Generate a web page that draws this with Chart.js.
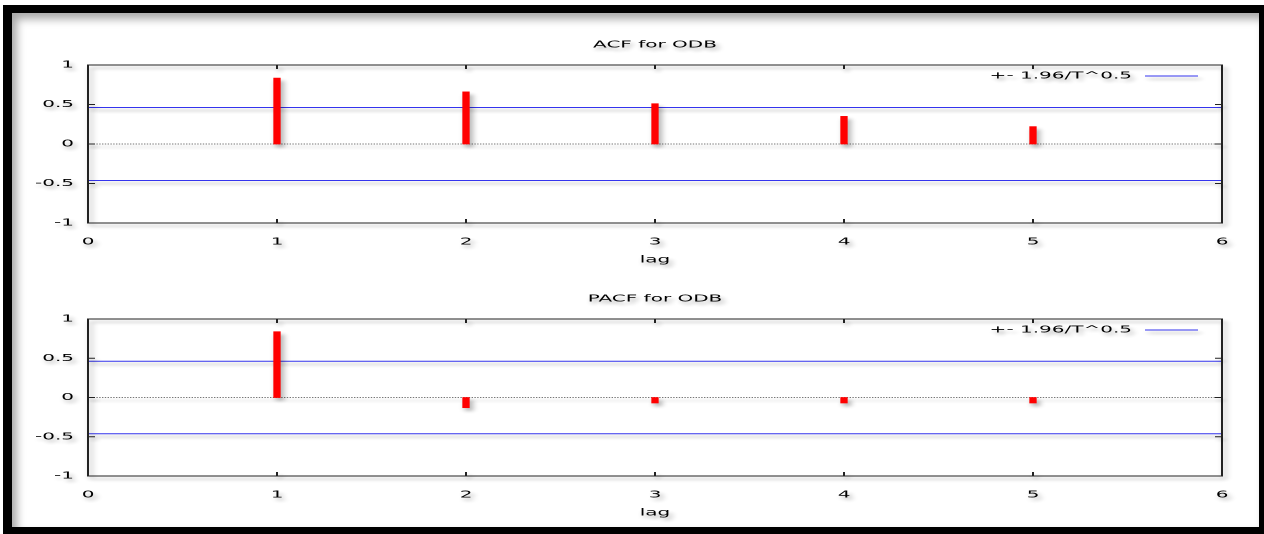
<!DOCTYPE html>
<html><head><meta charset="utf-8">
<script src="https://cdn.jsdelivr.net/npm/chart.js@4.4.0/dist/chart.umd.min.js"></script>
<style>
html,body{margin:0;padding:0;background:#fff;width:1264px;height:534px;overflow:hidden;position:relative}
#frame{position:absolute;left:3px;top:5px;width:1261px;height:529px;box-sizing:border-box;border-style:solid;border-color:#000;border-width:8px 5px 7px 9px;box-shadow:inset 5px 6px 8px rgba(0,0,0,0.35);}
canvas{position:absolute;left:0;transform:scaleX(2);transform-origin:0 0}
</style></head><body>
<div id="frame"></div>
<canvas id="acf" width="632" height="245" style="top:25px"></canvas>
<canvas id="pacf" width="632" height="244" style="top:279px"></canvas>
<script>
const lags = [1, 2, 3, 4, 5];
const acfValues = [0.835, 0.66, 0.51, 0.35, 0.22];
const pacfValues = [0.838, -0.13, -0.07, -0.07, -0.07];
const bandValue = 0.462;
const xTicks = [0, 1, 2, 3, 4, 5, 6];
const yTicks = [-1, -0.5, 0, 0.5, 1];
const titles = ['ACF for ODB', 'PACF for ODB'];
const legendLabel = '+- 1.96/T^0.5';
const xLabel = 'lag';

const FONT = {family: '"DejaVu Sans"', size: 10, weight: 'normal'};
const TEXT = '#000';

const decor = {
  id: 'decor',
  beforeDraw(chart) {
    const c = chart.ctx;
    c.save();
    c.shadowColor = 'rgba(0,0,0,0.33)';
    c.shadowOffsetX = 3;
    c.shadowOffsetY = 6;
    c.shadowBlur = 6;
  },
  afterDatasetsDraw(chart) {
    const c = chart.ctx, a = chart.chartArea, xs = chart.scales.x, ys = chart.scales.y;
    c.save();
    c.strokeStyle = '#222';
    c.lineWidth = 1;
    c.strokeRect(a.left, a.top, a.right - a.left, a.bottom - a.top);
    c.beginPath();
    xs.ticks.forEach(t => {
      if (t.value <= xs.min || t.value >= xs.max) return;
      const px = xs.getPixelForValue(t.value);
      c.moveTo(px, a.bottom); c.lineTo(px, a.bottom - 4);
      c.moveTo(px, a.top); c.lineTo(px, a.top + 4);
    });
    ys.ticks.forEach(t => {
      if (t.value <= ys.min || t.value >= ys.max) return;
      const py = ys.getPixelForValue(t.value);
      c.moveTo(a.left, py); c.lineTo(a.left + 3.5, py);
      c.moveTo(a.right, py); c.lineTo(a.right - 3.5, py);
    });
    c.stroke();
    const ds = chart.data.datasets.find(d => d.showInLegend);
    const y = a.top + 11;
    c.font = '10px "DejaVu Sans"';
    c.fillStyle = TEXT;
    c.textAlign = 'right';
    c.textBaseline = 'middle';
    c.fillText(ds.label, a.right - 45, y);
    c.beginPath();
    c.strokeStyle = ds.borderColor;
    c.moveTo(a.right - 38.5, y); c.lineTo(a.right - 12, y);
    c.stroke();
    c.restore();
  },
  afterDraw(chart) { chart.ctx.restore(); }
};

function makeChart(id, title, values) {
  const x0 = xTicks[0], x1 = xTicks[xTicks.length - 1];
  return new Chart(document.getElementById(id), {
    type: 'bar',
    data: {
      datasets: [
        {type: 'bar', label: 'coef', data: lags.map((l, i) => ({x: l, y: values[i]})),
         backgroundColor: '#ff0000', borderWidth: 0, barThickness: 3, grouped: false, order: 0},
        {type: 'line', label: legendLabel, showInLegend: true,
         data: [{x: x0, y: bandValue}, {x: x1, y: bandValue}],
         borderColor: '#3434ee', borderWidth: 1, pointRadius: 0, order: 1},
        {type: 'line', label: 'lower', data: [{x: x0, y: -bandValue}, {x: x1, y: -bandValue}],
         borderColor: '#3434ee', borderWidth: 1, pointRadius: 0, order: 1},
        {type: 'line', label: 'zero', data: [{x: x0, y: 0}, {x: x1, y: 0}],
         borderColor: '#777', borderWidth: 1, borderDash: [0.7, 0.7], pointRadius: 0, order: 2}
      ]
    },
    options: {
      responsive: false,
      devicePixelRatio: 2,
      animation: false,
      layout: {padding: {left: 0, right: 21, top: 0, bottom: 4}},
      plugins: {
        legend: {display: false},
        tooltip: {enabled: false},
        title: {display: false}
      },
      scales: {
        x: {
          type: 'linear', min: x0, max: x1, offset: false,
          grid: {display: false, offset: false, drawTicks: false},
          border: {display: false},
          afterBuildTicks: s => { s.ticks = xTicks.map(v => ({value: v})); },
          afterFit: s => { s.height = 43; },
          ticks: {padding: 13, font: FONT, color: TEXT, maxRotation: 0, autoSkip: false, callback: v => String(v)},
          title: {display: true, text: xLabel, font: FONT, color: TEXT, padding: {top: 6, bottom: 0}}
        },
        xTop: {
          type: 'linear', position: 'top', axis: 'x', min: x0, max: x1, offset: false,
          grid: {display: false, drawTicks: false},
          border: {display: false},
          ticks: {display: false},
          afterFit: s => { s.height = 40; },
          title: {display: true, text: title, font: FONT, color: TEXT, padding: {top: 14, bottom: 14}}
        },
        y: {
          type: 'linear', min: -1, max: 1,
          grid: {display: false, drawTicks: false},
          border: {display: false},
          afterBuildTicks: s => { s.ticks = yTicks.map(v => ({value: v})); },
          afterFit: s => { s.width = 44; },
          ticks: {padding: 7, font: FONT, color: TEXT, callback: v => String(v)}
        }
      }
    },
    plugins: [decor]
  });
}

makeChart('acf', titles[0], acfValues);
makeChart('pacf', titles[1], pacfValues);
</script>
</body></html>
